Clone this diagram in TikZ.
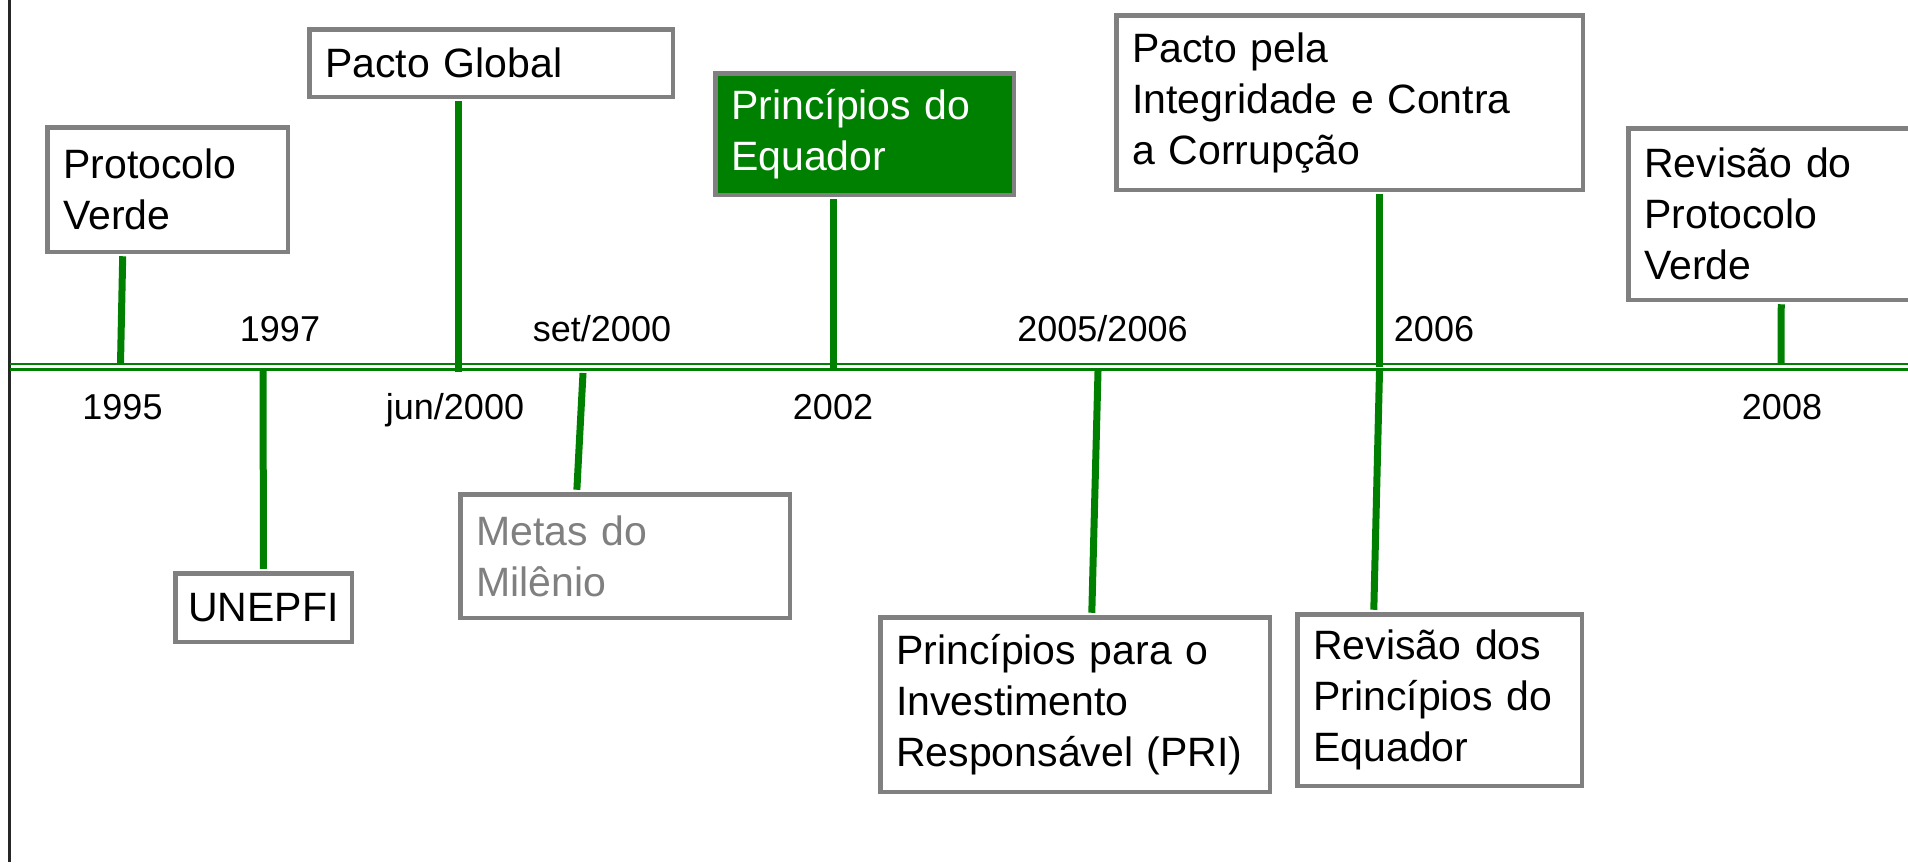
\documentclass[tikz,border=0pt]{standalone}
\usepackage{fontspec}
\setmainfont{Liberation Sans}
\definecolor{tlgreen}{RGB}{0,128,0}
\definecolor{tlgray}{RGB}{128,128,128}
\begin{document}
\begin{tikzpicture}[x=1pt,y=-1pt,
  box/.style={draw=tlgray, line width=4.5pt, fill=white, rectangle, align=left,
    inner ysep=0pt, inner xsep=16pt, font=\fontsize{41}{51}\selectfont},
  conn/.style={draw=tlgreen, line width=7pt},
  year/.style={anchor=base, inner sep=0pt, font=\fontsize{36}{43}\selectfont},
  tl/.style={draw=tlgreen, line width=2.5pt}]
\useasboundingbox (0,0) rectangle (1908,862);
\clip (0,0) rectangle (1908,862);

% frame line and timeline
\draw[line width=3pt, black!85] (9.7,0) -- (9.7,862);
\draw[tl] (9.7,364) -- (1908,364);
\draw[tl] (9.7,369.5) -- (1908,369.5);

% boxes
\node[box, minimum width=240.5pt, minimum height=124.5pt, text width=208.5pt] (proto) at (167.5,189.5) {Protocolo\\Verde};
\node[box, minimum width=363.5pt, minimum height=67.5pt, text width=331.5pt] (pacto) at (491,63) {Pacto Global};
\node[box, fill=tlgreen, text=white, minimum width=298.5pt, minimum height=121.5pt, text width=266.5pt] (equador) at (864.5,134) {Princípios do\\Equador};
\node[box, minimum width=466.5pt, minimum height=174.5pt, text width=434.5pt] (pactopela) at (1349.5,102.5) {Pacto pela\\Integridade e Contra\\a Corrupção};
\node[box, minimum width=329.5pt, minimum height=171.5pt, text width=297.5pt] (revproto) at (1793,214) {Revisão do\\Protocolo\\Verde};
\node[box, inner xsep=13pt, minimum width=176.5pt, minimum height=68.5pt, text width=150.5pt] (unepfi) at (263.5,607.5) {UNEPFI};
\node[box, text=tlgray, minimum width=329.5pt, minimum height=123.5pt, text width=297.5pt] (metas) at (625,556) {Metas do\\Milênio};
\node[box, minimum width=389.5pt, minimum height=174.5pt, text width=357.5pt] (pri) at (1075,704.5) {Princípios para o\\Investimento\\Responsável (PRI)};
\node[box, minimum width=284.5pt, minimum height=171.5pt, text width=252.5pt] (reveq) at (1439.5,700) {Revisão dos\\Princípios do\\Equador};

% timeline points
\coordinate (t1995) at (120.5,364);
\coordinate (t1997) at (263,371);
\coordinate (tjun) at (458.5,372);
\coordinate (tset) at (583,373);
\coordinate (t2002) at (833.5,368);
\coordinate (t2005) at (1098,371);
\coordinate (t2006a) at (1379,367);
\coordinate (t2006b) at (1379.5,371);
\coordinate (t2008) at (1781,363);

% connectors
\draw[conn, shorten <=2.25pt] ([xshift=77.75pt]proto.south west) -- (t1995);
\draw[conn, shorten >=2.25pt] (t1997) -- (unepfi.north);
\draw[conn, shorten <=2.25pt] (pacto.south -| tjun) -- (tjun);
\draw[conn, shorten >=2.25pt] (tset) -- ([xshift=118.75pt]metas.north west);
\draw[conn, shorten <=2.25pt] (equador.south -| t2002) -- (t2002);
\draw[conn, shorten >=2.25pt] (t2005) -- ([xshift=213.75pt]pri.north west);
\draw[conn, shorten <=2.25pt] (pactopela.south -| t2006a) -- (t2006a);
\draw[conn, shorten >=2.25pt] (t2006b) -- ([xshift=78.75pt]reveq.north west);
\draw[conn, shorten <=2.25pt] ([xshift=155.25pt]revproto.south west) -- (t2008);

% year labels
\node[year] (y1997) at (280,341) {1997};
\node[year] (yset) at (602,341) {set/2000};
\node[year] (y2005) at (1102.5,341) {2005/2006};
\node[year] (y2006) at (1434,341) {2006};
\node[year] (y1995) at (122.5,419) {1995};
\node[year] (yjun) at (455,419) {jun/2000};
\node[year] (y2002) at (833,419) {2002};
\node[year] (y2008) at (1782,419) {2008};
\end{tikzpicture}
\end{document}
